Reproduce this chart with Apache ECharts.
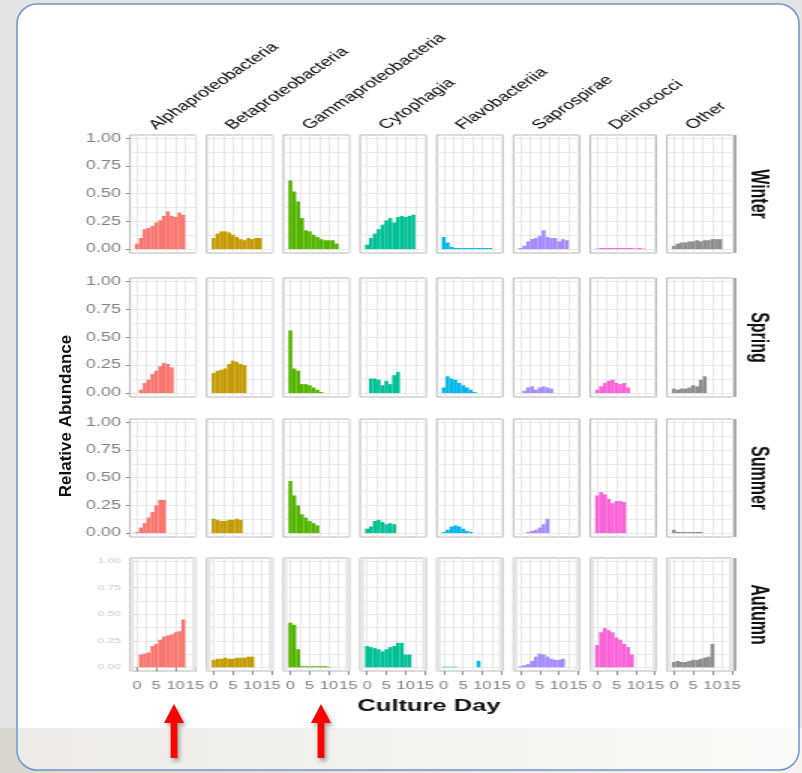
<!DOCTYPE html>
<html>
<head>
<meta charset="utf-8">
<title>Relative abundance by culture day</title>
<script src="https://cdn.jsdelivr.net/npm/echarts@6/dist/echarts.min.js"></script>
<style>
  html, body { margin: 0; padding: 0; background: #e3e3e3; }
  #frame { position: absolute; left: 0; top: 0; width: 802px; height: 773px; }
  /* the figure in the slide is stretched sideways, so draw it narrow and stretch it */
  #chart { position: absolute; left: 0; top: 0; width: 535px; height: 773px;
           transform: scaleX(1.5); transform-origin: 0 0; }
</style>
</head>
<body>
<div id="frame"></div>
<div id="chart"></div>
<script>
var S = 1.5;

var classes = ['Alphaproteobacteria', 'Betaproteobacteria', 'Gammaproteobacteria', 'Cytophagia',
               'Flavobacteriia', 'Saprospirae', 'Deinococci', 'Other'];
var seasons = ['Winter', 'Spring', 'Summer', 'Autumn'];
var colors = ['#F8766D', '#C49A00', '#53B400', '#00C094', '#00B6EB', '#A58AFF', '#FB61D7', '#8C8C8C'];
var dayTicks = [0, 5, 10, 15];
var dayGrid = [0, 2.5, 5, 7.5, 10, 12.5, 15];
var yTicks = [0, 0.25, 0.5, 0.75, 1];
var yGrid = [0, 0.125, 0.25, 0.375, 0.5, 0.625, 0.75, 0.875, 1];

// values per culture day (index = day), one list per class, in the order of classes
var winterData = [
  [0.05, 0.10, 0.18, 0.19, 0.21, 0.24, 0.26, 0.30, 0.34, 0.30, 0.29, 0.33, 0.31],
  [0.10, 0.14, 0.16, 0.16, 0.15, 0.13, 0.11, 0.09, 0.08, 0.10, 0.09, 0.10, 0.10],
  [0.62, 0.52, 0.43, 0.28, 0.17, 0.16, 0.13, 0.11, 0.09, 0.08, 0.08, 0.08, 0.05],
  [0.04, 0.10, 0.14, 0.18, 0.22, 0.26, 0.28, 0.24, 0.29, 0.30, 0.29, 0.30, 0.31],
  [0.11, 0.06, 0.02, 0.01, 0.01, 0.01, 0.01, 0.01, 0.01, 0.01, 0.01, 0.01, 0.01],
  [0.01, 0.03, 0.07, 0.09, 0.10, 0.12, 0.17, 0.11, 0.10, 0.10, 0.07, 0.09, 0.08],
  [0.005, 0.01, 0.01, 0.01, 0.01, 0.01, 0.01, 0.01, 0.01, 0.01, 0.005, 0.01, 0.005],
  [0.03, 0.05, 0.06, 0.06, 0.07, 0.07, 0.08, 0.07, 0.08, 0.08, 0.09, 0.09, 0.09]
];
var springData = [
  [null, 0.03, 0.09, 0.12, 0.17, 0.20, 0.24, 0.27, 0.26, 0.23],
  [0.18, 0.20, 0.21, 0.22, 0.26, 0.29, 0.28, 0.26, 0.25],
  [0.56, 0.22, 0.20, 0.08, 0.08, 0.07, 0.05, 0.03, 0.01],
  [null, 0.13, 0.13, 0.12, 0.07, 0.11, 0.08, 0.16, 0.19],
  [0.05, 0.15, 0.13, 0.12, 0.09, 0.07, 0.05, 0.03, 0.01],
  [null, 0.02, 0.05, 0.06, 0.03, 0.05, 0.06, 0.05, 0.04],
  [0.03, 0.06, 0.09, 0.11, 0.12, 0.09, 0.08, 0.09, 0.05],
  [0.04, 0.03, 0.04, 0.04, 0.05, 0.07, 0.06, 0.12, 0.15]
];
var summerData = [
  [0.01, 0.05, 0.09, 0.14, 0.19, 0.25, 0.30, 0.30],
  [0.13, 0.12, 0.11, 0.11, 0.12, 0.12, 0.13, 0.12],
  [0.47, 0.34, 0.25, 0.17, 0.14, 0.11, 0.09, 0.07],
  [0.04, 0.06, 0.11, 0.12, 0.10, 0.08, 0.09, 0.08],
  [0.01, 0.03, 0.06, 0.07, 0.06, 0.04, 0.02, 0.01],
  [null, null, 0.01, 0.02, 0.03, 0.05, 0.08, 0.13],
  [0.34, 0.37, 0.35, 0.31, 0.27, 0.29, 0.29, 0.28],
  [0.03, 0.01, 0.01, 0.01, 0.01, 0.01, 0.01, 0.01]
];
var autumnData = [
  [null, 0.12, 0.13, 0.14, 0.20, 0.22, 0.26, 0.29, 0.30, 0.31, 0.33, 0.34, 0.45],
  [0.07, 0.08, 0.08, 0.09, 0.08, 0.08, 0.09, 0.09, 0.09, 0.10, 0.10],
  [0.42, 0.40, 0.17, 0.01, 0.01, 0.01, 0.01, 0.01, 0.01, 0.01, 0.005],
  [0.20, 0.19, 0.18, 0.17, 0.15, 0.17, 0.19, 0.20, 0.23, 0.23, 0.12, 0.12],
  [0.005, 0.005, 0.005, 0.005, null, null, null, null, null, 0.06],
  [0.01, 0.02, 0.03, 0.06, 0.10, 0.13, 0.12, 0.10, 0.08, 0.07, 0.07, 0.08],
  [0.21, 0.33, 0.37, 0.35, 0.33, 0.28, 0.26, 0.22, 0.19, 0.12],
  [0.05, 0.06, 0.05, 0.05, 0.06, 0.07, 0.07, 0.08, 0.09, 0.10, 0.22]
];
var seasonData = [winterData, springData, summerData, autumnData];

// layout (real pixels)
var rowTop = [135, 278, 419, 558];
var rowHeight = [118, 119, 118, 113];
var colLeft0 = 130, colStep = 76.7, colWidth = 66;
var xMin = -1.8, xMax = 15.3, yMin = -0.035, yMax = 1.03;
var font = 'Liberation Sans';

function toPoints(vals) {
  var out = [];
  vals.forEach(function (v, d) { if (v != null) out.push([d, v]); });
  return out;
}

var grids = [], xAxes = [], yAxes = [], series = [], labels = [];

seasons.forEach(function (season, r) {
  classes.forEach(function (cls, c) {
    var g = r * classes.length + c;
    grids.push({
      left: (colLeft0 + c * colStep) / S, top: rowTop[r],
      width: colWidth / S, height: rowHeight[r],
      show: true, backgroundColor: '#ffffff', borderColor: '#b5b5b5', borderWidth: 1,
      outerBoundsMode: 'none'
    });
    xAxes.push({
      gridIndex: g, type: 'value', min: xMin, max: xMax,
      axisLine: { show: false }, axisLabel: { show: false },
      axisTick: { show: false, customValues: dayGrid },
      splitLine: { show: true, lineStyle: { color: '#e8e8e8', width: 1 } }
    });
    yAxes.push({
      gridIndex: g, type: 'value', min: yMin, max: yMax,
      axisLine: { show: false }, axisLabel: { show: false },
      axisTick: { show: false, customValues: yGrid },
      splitLine: { show: true, lineStyle: { color: '#e8e8e8', width: 1 } }
    });
    var s = {
      type: 'bar', name: season + ' ' + cls,
      xAxisIndex: g, yAxisIndex: g,
      data: toPoints(seasonData[r][c]),
      barWidth: colWidth / S / (xMax - xMin),
      itemStyle: { color: colors[c] },
      silent: true
    };
    if (season === 'Autumn') {
      s.markArea = {
        silent: true, itemStyle: { color: '#e6e6e6' },
        data: [[{ xAxis: xMin }, { xAxis: -0.8 }], [{ xAxis: 14.3 }, { xAxis: xMax }]]
      };
    }
    series.push(s);
  });
});

// y tick labels on the first column
seasons.forEach(function (season, r) {
  var faint = season === 'Autumn';
  yAxes.push({
    gridIndex: r * classes.length, type: 'value', position: 'left', min: yMin, max: yMax,
    axisLine: { show: false }, splitLine: { show: false },
    axisTick: { show: true, length: 4 / S, customValues: yTicks,
                lineStyle: { color: faint ? '#cfcfcf' : '#8a8a8a' } },
    axisLabel: {
      show: true, customValues: yTicks, margin: 6,
      color: faint ? '#c8c8c8' : '#7f7f7f', fontSize: faint ? 8 : 12, fontFamily: font,
      formatter: function (v) { return v.toFixed(2); }
    }
  });
});

// day tick labels on the bottom row
classes.forEach(function (cls, c) {
  xAxes.push({
    gridIndex: 3 * classes.length + c, type: 'value', position: 'bottom', min: xMin, max: xMax,
    axisLine: { show: false }, splitLine: { show: false },
    axisTick: { show: true, length: 4, customValues: dayTicks, lineStyle: { color: '#8a8a8a' } },
    axisLabel: { show: true, customValues: dayTicks, margin: 9, hideOverlap: false,
                 color: '#7f7f7f', fontSize: 11, fontFamily: font }
  });
});

// column headers, row strips, axis title
classes.forEach(function (cls, c) {
  var cx = colLeft0 + c * colStep + colWidth / 2;
  labels.push({
    type: 'text', x: (cx - 4) / S, y: 132, rotation: Math.PI / 4,
    style: { text: cls, fontSize: 13, fontFamily: font, fill: '#000',
             align: 'left', verticalAlign: 'bottom' }
  });
});
seasons.forEach(function (season, r) {
  labels.push({
    type: 'rect', shape: { x: 733 / S, y: rowTop[r], width: 3.5 / S, height: rowHeight[r] },
    style: { fill: '#a9a9a9' }
  });
  labels.push({
    type: 'text', x: 758 / S, y: rowTop[r] + rowHeight[r] / 2, rotation: -Math.PI / 2,
    style: { text: season, fontSize: 16, fontWeight: 'bold', fontFamily: font, fill: '#111',
             align: 'center', verticalAlign: 'middle' }
  });
});
labels.push({
  type: 'text', x: 429 / S, y: 706,
  style: { text: 'Culture Day', fontSize: 17, fontWeight: 'bold', fontFamily: font, fill: '#111',
           align: 'center', verticalAlign: 'middle' }
});

// slide frame behind the figure
function arrow(cx) {
  return {
    type: 'polygon',
    shape: { points: [[cx, 704], [cx + 10, 723], [cx + 3.4, 723], [cx + 3.4, 758],
                      [cx - 3.4, 758], [cx - 3.4, 723], [cx - 10, 723]] },
    style: { fill: '#ff0000', shadowBlur: 4, shadowColor: 'rgba(0,0,0,0.35)',
             shadowOffsetX: 2, shadowOffsetY: 3 }
  };
}
var frame = echarts.init(document.getElementById('frame'));
frame.setOption({
  animation: false,
  graphic: [
    { type: 'rect', shape: { x: 0, y: 0, width: 802, height: 773 }, style: { fill: '#e3e3e3' } },
    { type: 'rect', shape: { x: 0, y: 728, width: 802, height: 45 },
      style: { fill: new echarts.graphic.LinearGradient(0, 0, 1, 0,
        [{ offset: 0, color: '#d8d6cc' }, { offset: 1, color: '#f4f3ef' }]) } },
    { type: 'rect', shape: { x: 17, y: 4, width: 782, height: 766, r: 20 }, style: { fill: '#ffffff' } },
    { type: 'rect', shape: { x: 18, y: 728, width: 780, height: 41, r: [0, 0, 19, 19] },
      style: { fill: new echarts.graphic.LinearGradient(0, 0, 1, 0,
        [{ offset: 0, color: '#edebe4' }, { offset: 1, color: '#fafaf8' }]) } },
    { type: 'rect', shape: { x: 17, y: 4, width: 782, height: 766, r: 20 },
      style: { fill: 'none', stroke: '#6b94d3', lineWidth: 1.5 } },
    arrow(174),
    arrow(321),
    { type: 'text', x: 66, y: 416, rotation: Math.PI / 2,
      style: { text: 'Relative Abundance', fontSize: 17, fontWeight: 'bold', fontFamily: font,
               fill: '#111', align: 'center', verticalAlign: 'middle' } }
  ]
});

var chart = echarts.init(document.getElementById('chart'));
chart.setOption({
  animation: false,
  backgroundColor: 'transparent',
  grid: grids,
  xAxis: xAxes,
  yAxis: yAxes,
  series: series,
  graphic: labels
});
</script>
</body>
</html>
